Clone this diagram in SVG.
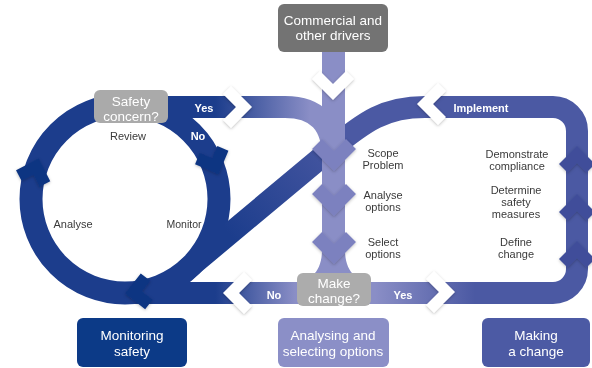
<svg xmlns="http://www.w3.org/2000/svg" xmlns:xlink="http://www.w3.org/1999/xlink" width="592" height="368" viewBox="0 0 592 368">
<style>
text{font-family:"Liberation Sans",Arial,Helvetica,sans-serif;text-anchor:middle}
.lbl{font-size:11px;fill:#3a3a3a}
.bold{font-size:11px;font-weight:bold;fill:#ffffff}
.box{font-size:13.5px;fill:#ffffff}
.bar{fill:none;stroke-width:22}
.navy{fill:#0f3582}
.purp{fill:#7c81bf}
.mid{fill:#3f4e9a}
.white{fill:#ffffff}
</style>
<defs>
<polygon id="chevB" points="-22,-7 -12,-17 0,-5 12,-17 22,-7 0,15"/>
<polygon id="chevS" points="-18,-6 -9.5,-14.5 0,-5 9.5,-14.5 18,-6 0,12"/>
<polygon id="chevW" points="-21,-7 -13,-15 0,-2 13,-15 21,-7 0,14"/>
<linearGradient id="gTop" gradientUnits="userSpaceOnUse" x1="175" y1="0" x2="330" y2="0">
<stop offset="0.26" stop-color="#1c3d8c"/>
<stop offset="0.87" stop-color="#8a8ec6"/>
</linearGradient>
<linearGradient id="gBot" gradientUnits="userSpaceOnUse" x1="125" y1="0" x2="577" y2="0">
<stop offset="0.2" stop-color="#1c3d8c"/>
<stop offset="0.376" stop-color="#8a8ec6"/>
<stop offset="0.553" stop-color="#8a8ec6"/>
<stop offset="0.774" stop-color="#4b59a3"/>
</linearGradient>
<linearGradient id="gDiag" gradientUnits="userSpaceOnUse" x1="345" y1="135" x2="230" y2="235">
<stop offset="0" stop-color="#4b59a3"/>
<stop offset="1" stop-color="#1c3d8c"/>
</linearGradient>
<filter id="sh" x="-30%" y="-30%" width="160%" height="160%">
<feDropShadow dx="0" dy="1" stdDeviation="1.5" flood-color="#000" flood-opacity="0.25"/>
</filter>
</defs>

<g id="connectors">
<circle cx="125" cy="199" r="94" fill="none" stroke="#1c3d8c" stroke-width="23"/>
<path class="bar" stroke="url(#gDiag)" d="M 440 107 L 425 107 C 385 107 365 121 330 150 L 185 271"/>
<path class="bar" stroke="#4b59a3" d="M 425 107 L 553 107 A 24 24 0 0 1 577 131 L 577 269 A 24 24 0 0 1 553 293 L 470 293"/>
<path class="bar" stroke="url(#gBot)" d="M 480 293 L 125 293"/>
<path class="bar" stroke="url(#gTop)" d="M 160 107 L 285 107 Q 333 107 333 158"/>
<rect x="322" y="48" width="23" height="228" fill="#8a8ec6"/>
<path fill="#8a8ec6" d="M 322 250 C 322 272 310 283 290 283 L 378 283 C 357 283 345 272 345 250 Z"/>
<g filter="url(#sh)">
<use href="#chevS" class="navy" transform="translate(35,170) rotate(198)"/>
<use href="#chevS" class="navy" transform="translate(214,163) rotate(-22)"/>
<use href="#chevS" class="navy" transform="translate(137,292) rotate(83)"/>
<use href="#chevB" class="purp" transform="translate(334,156)"/>
<use href="#chevB" class="purp" transform="translate(334,201)"/>
<use href="#chevB" class="purp" transform="translate(334,249)"/>
<use href="#chevS" class="mid" transform="translate(577,158) rotate(180)"/>
<use href="#chevS" class="mid" transform="translate(577,206) rotate(180)"/>
<use href="#chevS" class="mid" transform="translate(577,253) rotate(180)"/>
<use href="#chevW" class="white" transform="translate(333,86)"/>
<use href="#chevW" class="white" transform="translate(238,107) rotate(-90)"/>
<use href="#chevW" class="white" transform="translate(431,104) rotate(90)"/>
<use href="#chevW" class="white" transform="translate(237,293) rotate(90)"/>
<use href="#chevW" class="white" transform="translate(441,292) rotate(-90)"/>
</g>
<text class="bold" x="204" y="112">Yes</text>
<text class="bold" x="198" y="140">No</text>
<text class="bold" x="481" y="112">Implement</text>
<text class="bold" x="274" y="299">No</text>
<text class="bold" x="403" y="299">Yes</text>
</g>

<g id="labels">
<text class="lbl" x="128" y="140">Review</text>
<text class="lbl" x="73" y="228">Analyse</text>
<text class="lbl" x="184" y="228" style="font-size:10.5px">Monitor</text>
<text class="lbl" x="383" y="157">Scope</text>
<text class="lbl" x="383" y="169">Problem</text>
<text class="lbl" x="383" y="199">Analyse</text>
<text class="lbl" x="383" y="211">options</text>
<text class="lbl" x="383" y="246">Select</text>
<text class="lbl" x="383" y="258">options</text>
<text class="lbl" x="517" y="158">Demonstrate</text>
<text class="lbl" x="517" y="170">compliance</text>
<text class="lbl" x="516" y="194">Determine</text>
<text class="lbl" x="516" y="206">safety</text>
<text class="lbl" x="516" y="218">measures</text>
<text class="lbl" x="516" y="246">Define</text>
<text class="lbl" x="516" y="258">change</text>
</g>

<g id="commercial">
<rect x="278" y="4" width="110" height="48" rx="6" fill="#737373"/>
<text class="box" x="333" y="25">Commercial and</text>
<text class="box" x="333" y="40">other drivers</text>
</g>
<g id="safety-concern">
<rect x="94" y="90" width="74" height="33" rx="6" fill="#aaaaaa"/>
<text class="box" x="131" y="106">Safety</text>
<text class="box" x="131" y="121">concern?</text>
</g>
<g id="make-change">
<rect x="297" y="273" width="74" height="33" rx="6" fill="#acacac"/>
<text class="box" x="334" y="288">Make</text>
<text class="box" x="334" y="303">change?</text>
</g>
<g id="monitoring-safety">
<rect x="77" y="318" width="110" height="49" rx="6" fill="#0c3a87"/>
<text class="box" x="132" y="340">Monitoring</text>
<text class="box" x="132" y="356">safety</text>
</g>
<g id="analysing-selecting">
<rect x="278" y="318" width="111" height="49" rx="6" fill="#8b8fc7"/>
<text class="box" x="333" y="340">Analysing and</text>
<text class="box" x="333" y="356">selecting options</text>
</g>
<g id="making-change">
<rect x="482" y="318" width="108" height="49" rx="6" fill="#4c5aa4"/>
<text class="box" x="536" y="340">Making</text>
<text class="box" x="536" y="356">a change</text>
</g>
</svg>
